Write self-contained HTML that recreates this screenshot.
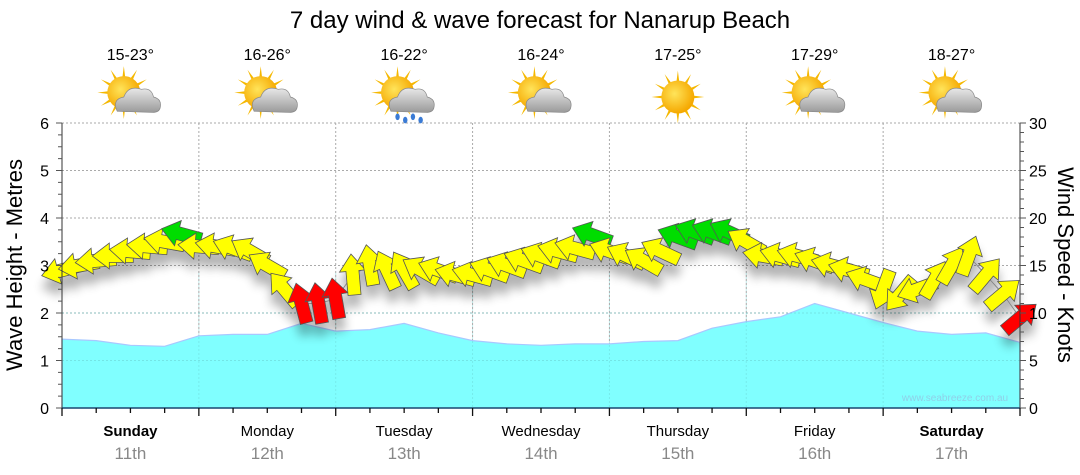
<!DOCTYPE html>
<html><head><meta charset="utf-8">
<style>
body{margin:0;background:#fff;font-family:"Liberation Sans",sans-serif;}
svg{display:block}
</style></head>
<body>
<svg id="chart" width="1080" height="475" viewBox="0 0 1080 475">
<defs>
<filter id="shadow" x="-20%" y="-20%" width="140%" height="180%">
<feGaussianBlur in="SourceAlpha" stdDeviation="5"/>
<feOffset dx="0" dy="12" result="b"/>
<feComponentTransfer><feFuncA type="linear" slope="0.3"/></feComponentTransfer>
<feMerge><feMergeNode/><feMergeNode in="SourceGraphic"/></feMerge>
</filter>
<radialGradient id="sunG" cx="0.4" cy="0.4" r="0.6"><stop offset="0" stop-color="#ffe45a"/><stop offset="1" stop-color="#f5a800"/></radialGradient>
<linearGradient id="cloudG" x1="0" y1="0" x2="0" y2="1"><stop offset="0" stop-color="#e8e8e8"/><stop offset="1" stop-color="#9a9a9a"/></linearGradient>
</defs>
<text x="540" y="28" text-anchor="middle" font-size="24" fill="#000">7 day wind &amp; wave forecast for Nanarup Beach</text>
<g id="grid"></g>
<g id="waves"></g>
<g id="wind" filter="url(#shadow)"></g>
<g id="axes"></g>
<g id="topG"></g>
<text x="955" y="401" text-anchor="middle" font-size="10" fill="#8fd0e8">www.seabreeze.com.au</text>
<text transform="translate(22,265) rotate(-90)" text-anchor="middle" font-size="22" fill="#000">Wave Height - Metres</text>
<text transform="translate(1058,265) rotate(90)" text-anchor="middle" font-size="22" fill="#000">Wind Speed - Knots</text>
</svg>
<script>
const days=["Sunday","Monday","Tuesday","Wednesday","Thursday","Friday","Saturday"];
const dates=["11th","12th","13th","14th","15th","16th","17th"];
const temps=["15-23°","16-26°","16-22°","16-24°","17-25°","17-29°","18-27°"];
const icons=["partly","partly","rain","partly","sun","partly","partly"];
const waveHeights=[1.45,1.42,1.32,1.30,1.52,1.55,1.55,1.78,1.62,1.65,1.78,1.58,1.42,1.35,1.32,1.35,1.35,1.40,1.42,1.68,1.82,1.92,2.2,2.0,1.8,1.62,1.55,1.58,1.38];
const windSpeed=[14.5,15,15.5,16,16.5,17,17.5,18.3,17,17,16.8,16.5,15,12.5,11,11,11.5,14,15,14.5,14.5,14.5,14.5,14,14,14.5,15,15.5,16,16.5,16.8,18.2,16.5,16,15.5,16.5,18,18.5,18.5,18.5,17.5,16,16,16,15.5,15,14.5,13.5,12.5,12,12.5,13.5,15,16,14,12,9.5];
const windDir=[195,190,185,180,175,175,170,165,175,170,160,150,150,130,105,100,100,95,100,115,120,150,160,165,165,160,160,160,160,165,165,160,160,155,150,155,160,160,160,155,150,170,165,165,160,165,165,160,250,230,200,60,60,70,50,40,40];
const mTicks=[0,1,2,3,4,5,6];
const kTicks=[0,5,10,15,20,25,30];

const X0=62,X1=1020,Y0=408,Y1=123;
const dayW=(X1-X0)/7;
const xh=h=>X0+h*(X1-X0)/168;
const ym=m=>Y0-m*(Y0-Y1)/6;
const yk=k=>Y0-k*(Y0-Y1)/30;
const NS="http://www.w3.org/2000/svg";
function mk(tag,attrs,parent){const e=document.createElementNS(NS,tag);for(const k in attrs)e.setAttribute(k,attrs[k]);parent.appendChild(e);return e;}
const gridG=document.getElementById('grid'),axesG=document.getElementById('axes'),wavesG=document.getElementById('waves'),windG=document.getElementById('wind'),topG=document.getElementById('topG');

mTicks.forEach(m=>{if(m>0){const l=mk('line',{x1:X0,x2:X1,y1:ym(m),y2:ym(m),stroke:'#aaa','stroke-dasharray':'2,2'},gridG);

}});
for(let k=1;k<7;k++){const l=mk('line',{x1:X0+k*dayW,x2:X0+k*dayW,y1:Y1,y2:Y0,stroke:'#aaa','stroke-dasharray':'2,2'},gridG);

}

let wd='M'+X0+','+Y0;
waveHeights.forEach((h,i)=>{wd+=' L'+xh(i*6).toFixed(1)+','+ym(h).toFixed(1);});
wd+=' L'+X1+','+Y0+' Z';
const wp=mk('path',{d:wd,fill:'#80ffff',stroke:'#a8c8ff','stroke-width':1.2},wavesG);


mTicks.forEach(m=>{if(m>0&&m<3){mk('line',{x1:X0,x2:X1,y1:ym(m),y2:ym(m),stroke:'#6cc','stroke-dasharray':'2,2','stroke-opacity':0.5},wavesG);}});
for(let k=1;k<7;k++){mk('line',{x1:X0+k*dayW,x2:X0+k*dayW,y1:Y1+150,y2:Y0,stroke:'#6cc','stroke-dasharray':'2,2','stroke-opacity':0.4},wavesG);}

let ld='';
windSpeed.forEach((s,i)=>{ld+=(i?' L':'M')+xh(i*3).toFixed(1)+','+yk(s).toFixed(1);});
mk('path',{d:ld,fill:'none',stroke:'#888','stroke-width':1},windG);
windSpeed.forEach((s,i)=>{
 const col=s>=17.8?'#00dd00':(s<12?'#ff0000':'#ffff00');
 const a=mk('polygon',{points:'-20,-6.5 4,-6.5 4,-13 21,0 4,13 4,6.5 -20,6.5',fill:col,stroke:'#555','stroke-width':0.8,
  transform:'translate('+xh(i*3).toFixed(1)+','+yk(s).toFixed(1)+') rotate('+(-windDir[i])+')'},windG);
 
 
});

mk('line',{x1:X0,x2:X0,y1:Y1,y2:Y0,stroke:'#333'},axesG);
mk('line',{x1:X1,x2:X1,y1:Y1,y2:Y0,stroke:'#333'},axesG);
mk('line',{x1:X0,x2:X1,y1:Y0,y2:Y0,stroke:'#1a4a70','stroke-width':1.5},axesG);
for(let m=0;m<=6.001;m+=0.25){mk('line',{x1:X0-(Math.abs(m-Math.round(m))<0.01?6:4),x2:X0,y1:ym(m),y2:ym(m),stroke:'#555'},axesG);}
for(let k=0;k<=30;k+=1){mk('line',{x1:X1,x2:X1+(k%5==0?6:4),y1:yk(k),y2:yk(k),stroke:'#555'},axesG);}
mTicks.forEach(m=>{const t=mk('text',{x:49,y:ym(m)+6,'text-anchor':'end','font-size':16,fill:'#000'},axesG);t.textContent=m;

});
kTicks.forEach(k=>{const t=mk('text',{x:1029,y:yk(k)+6,'text-anchor':'start','font-size':16,fill:'#000'},axesG);t.textContent=k;

});
for(let h=0;h<=168;h+=6){mk('line',{x1:xh(h),x2:xh(h),y1:Y0,y2:Y0+(h%24==0?8:5),stroke:'#111','stroke-width':1.3},axesG);}
days.forEach((dn,i)=>{const cx=X0+(i+0.5)*dayW;
 const t=mk('text',{x:cx,y:436,'text-anchor':'middle','font-size':15,fill:'#000','font-weight':(i==0||i==6)?'bold':'normal'},axesG);t.textContent=dn;
 
 
 const t2=mk('text',{x:cx,y:459,'text-anchor':'middle','font-size':17,fill:'#888'},axesG);t2.textContent=dates[i];
 
 
 const t3=mk('text',{x:cx,y:60,'text-anchor':'middle','font-size':16,fill:'#000'},topG);t3.textContent=temps[i];
 
 
 const g=mk('g',{transform:'translate('+cx+',97) scale(1.1)'},topG);
 
 
 const sx=icons[i]=='sun'?0:-6, sy=icons[i]=='sun'?0:-4;
 for(let r=0;r<12;r++){mk('polygon',{points:'-3,0 3,0 0,-24',fill:'#f5b800',transform:'translate('+sx+','+sy+') rotate('+(r*30)+')'},g);}
 mk('circle',{cx:sx,cy:sy,r:15,fill:'url(#sunG)'},g);
 if(icons[i]!='sun'){
  mk('path',{d:'M-12,13 Q-17,2 -6,0 Q-2,-11 10,-7 Q19,-9 21,0 Q29,2 27,10 Q26,14 20,14 Z',fill:'url(#cloudG)',stroke:'#888','stroke-width':0.6},g);
 }
 if(icons[i]=='rain'){
  [[-6,18],[1,21],[8,18],[15,21]].forEach(p=>mk('ellipse',{cx:p[0],cy:p[1],rx:2,ry:3,fill:'#3a7bd5'},g));
 }
});
</script>
</body></html>
